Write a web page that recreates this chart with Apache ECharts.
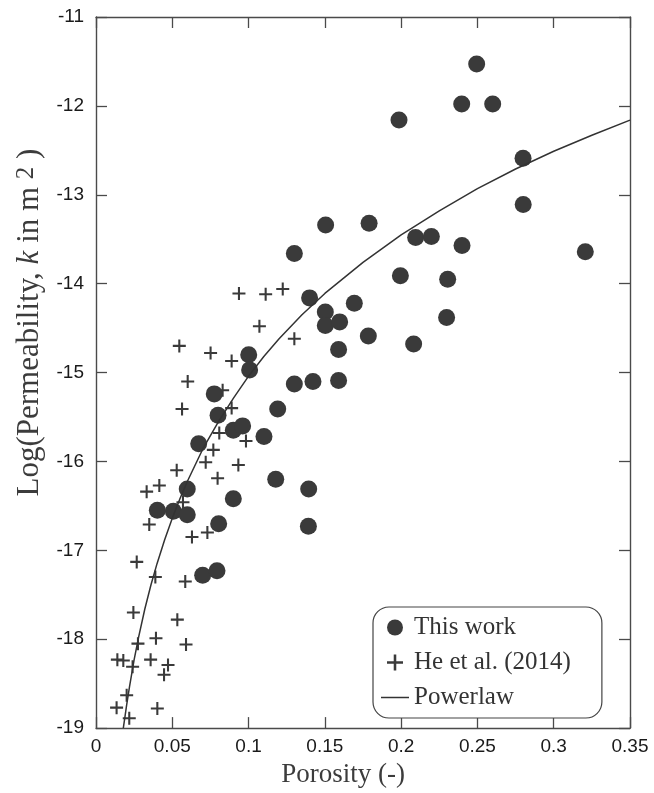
<!DOCTYPE html>
<html>
<head>
<meta charset="utf-8">
<script src="https://cdn.jsdelivr.net/npm/echarts@6/dist/echarts.min.js"></script>
<style>
  html, body { margin: 0; padding: 0; background: #fff; }
  #chart { width: 654px; height: 793px; }
</style>
</head>
<body>
<div id="chart"></div>
<script>
// Porosity (-) and log10 permeability (m^2) measured in this work
const thisWorkPorosity = [0.0402, 0.0507, 0.0598, 0.0598, 0.0673, 0.0699, 0.0775, 0.0793, 0.0800, 0.0804,
  0.0900, 0.0900, 0.0961, 0.1001, 0.1007, 0.1101, 0.1178, 0.1191, 0.1300, 0.1300,
  0.1392, 0.1394, 0.1400, 0.1422, 0.1503, 0.1503, 0.1505, 0.1590, 0.1590, 0.1597,
  0.1693, 0.1785, 0.1790, 0.1986, 0.1995, 0.2095, 0.2198, 0.2082, 0.2298, 0.2305,
  0.2397, 0.2399, 0.2495, 0.2600, 0.2799, 0.2800, 0.3207];
const thisWorkLogK = [-16.55, -16.56, -16.60, -16.31, -15.80, -17.28, -15.24, -17.23, -15.48, -16.70,
  -15.65, -16.42, -15.60, -14.80, -14.97, -15.72, -16.20, -15.41, -13.66, -15.13,
  -16.73, -16.31, -14.16, -15.10, -14.32, -14.47, -13.34, -14.74, -15.09, -14.43,
  -14.22, -14.59, -13.32, -12.16, -13.91, -13.48, -13.47, -14.68, -14.38, -13.95,
  -11.98, -13.57, -11.53, -11.98, -12.59, -13.11, -13.64];

// He et al. (2014)
const hePorosity = [0.0937, 0.1112, 0.1224, 0.1071, 0.1300, 0.0546, 0.0751, 0.0889, 0.0601, 0.0830,
  0.0564, 0.0889, 0.0808, 0.0983, 0.0769, 0.0719, 0.0933, 0.0529, 0.0797, 0.0415,
  0.0332, 0.0570, 0.0349, 0.0629, 0.0730, 0.0267, 0.0389, 0.0585, 0.0245, 0.0533,
  0.0393, 0.0275, 0.0590, 0.0140, 0.0179, 0.0240, 0.0358, 0.0472, 0.0446, 0.0201,
  0.0135, 0.0402, 0.0218];
const heLogK = [-14.11, -14.12, -14.06, -14.48, -14.62, -14.70, -14.78, -14.87, -15.10, -15.20,
  -15.41, -15.40, -15.68, -15.77, -15.87, -16.01, -16.04, -16.10, -16.19, -16.27,
  -16.34, -16.46, -16.71, -16.85, -16.80, -17.13, -17.30, -17.35, -17.70, -17.78,
  -17.99, -18.05, -18.06, -18.23, -18.24, -18.31, -18.23, -18.29, -18.40, -18.63,
  -18.77, -18.78, -18.89];

// Power-law trend line
const powerPorosity = [0.0179, 0.019, 0.020, 0.022, 0.025, 0.028, 0.032, 0.036, 0.040, 0.045,
  0.050, 0.055, 0.060, 0.070, 0.080, 0.090, 0.100, 0.110, 0.120, 0.135,
  0.150, 0.175, 0.200, 0.225, 0.250, 0.275, 0.300, 0.325, 0.350];
const powerLogK = [-19.00, -18.87, -18.75, -18.53, -18.23, -17.97, -17.66, -17.39, -17.15, -16.88,
  -16.64, -16.42, -16.22, -15.86, -15.56, -15.29, -15.04, -14.82, -14.62, -14.35,
  -14.11, -13.76, -13.45, -13.18, -12.93, -12.71, -12.51, -12.33, -12.16];

const pairs = (xs, ys) => xs.map((x, i) => [x, ys[i]]);

const ink = '#3a3a3a';
const axisColor = '#4a4a4a';
const serif = '"Liberation Serif", "Times New Roman", serif';
const sans = '"Liberation Sans", Arial, sans-serif';
const plusPath = 'path://M42,0H58V42H100V58H58V100H42V58H0V42H42Z';
const dashPath = 'path://M0,0H28V1.5H0Z';

const xBase = { min: 0, max: 0.35, interval: 0.05, splitLine: { show: false } };
const yBase = { min: -19, max: -11, interval: 1, splitLine: { show: false } };
const line = { show: true, onZero: false, lineStyle: { color: axisColor, width: 1.4 } };
const tick = { show: true, inside: true, length: 11, lineStyle: { color: axisColor, width: 1.3 } };
const legendItem = { color: ink, opacity: 1, borderWidth: 0 };

const chart = echarts.init(document.getElementById('chart'), null, { renderer: 'canvas' });
chart.setOption({
  animation: false,
  backgroundColor: '#fff',
  grid: { left: 96, right: 24, top: 17, bottom: 63, containLabel: false },
  xAxis: [
    Object.assign({}, xBase, {
      type: 'value', position: 'bottom',
      axisLine: line, axisTick: tick,
      axisLabel: { show: true, margin: 9, color: '#1a1a1a', fontFamily: sans, fontSize: 19,
        formatter: v => String(+v.toFixed(2)) },
      name: 'Porosity (-)', nameLocation: 'middle', nameGap: 29,
      nameTextStyle: { fontFamily: serif, fontSize: 27, color: '#3c3c3c', padding: [0, 40, 0, 0] }
    }),
    Object.assign({}, xBase, {
      type: 'value', position: 'top',
      axisLine: line, axisTick: tick, axisLabel: { show: false }
    })
  ],
  yAxis: [
    Object.assign({}, yBase, {
      type: 'value', position: 'left',
      axisLine: line, axisTick: tick,
      axisLabel: { show: true, margin: 12, color: '#1a1a1a', fontFamily: sans, fontSize: 19 },
      name: 'Log(Permeability, {k|k} in m {s|2} )', nameLocation: 'middle', nameGap: 48,
      nameTextStyle: {
        fontFamily: serif, fontSize: 31, color: '#3c3c3c', padding: [0, 0, 0, 100],
        rich: {
          k: { fontFamily: serif, fontSize: 31, fontStyle: 'italic', color: '#3c3c3c' },
          s: { fontFamily: serif, fontSize: 25, color: '#3c3c3c', padding: [0, 0, 8, 0] }
        }
      }
    }),
    Object.assign({}, yBase, {
      type: 'value', position: 'right',
      axisLine: line, axisTick: tick, axisLabel: { show: false }
    })
  ],
  legend: {
    orient: 'vertical', left: 373, top: 607,
    padding: [8, 31, 8, 8],
    itemWidth: 28, itemHeight: 16, itemGap: 10,
    borderColor: '#444', borderWidth: 1.2, borderRadius: 16,
    backgroundColor: '#fff',
    textStyle: { fontFamily: serif, fontSize: 25, color: '#333' },
    data: [
      { name: 'This work', icon: 'circle', itemStyle: legendItem },
      { name: 'He et al. (2014)', icon: plusPath, itemStyle: legendItem },
      { name: 'Powerlaw', icon: dashPath, itemStyle: { color: '#333', opacity: 1, borderWidth: 0 } }
    ]
  },
  series: [
    {
      name: 'He et al. (2014)', type: 'scatter',
      data: pairs(hePorosity, heLogK),
      symbol: plusPath, symbolSize: 13,
      itemStyle: { color: ink, opacity: 1 }, z: 2
    },
    {
      name: 'This work', type: 'scatter',
      data: pairs(thisWorkPorosity, thisWorkLogK),
      symbol: 'circle', symbolSize: 17,
      itemStyle: { color: ink, opacity: 1 }, z: 3
    },
    {
      name: 'Powerlaw', type: 'line',
      data: pairs(powerPorosity, powerLogK),
      symbol: 'none', smooth: false, clip: true,
      lineStyle: { color: '#333', width: 1.5 },
      itemStyle: { color: '#333' }, z: 4
    }
  ]
});
</script>
</body>
</html>
